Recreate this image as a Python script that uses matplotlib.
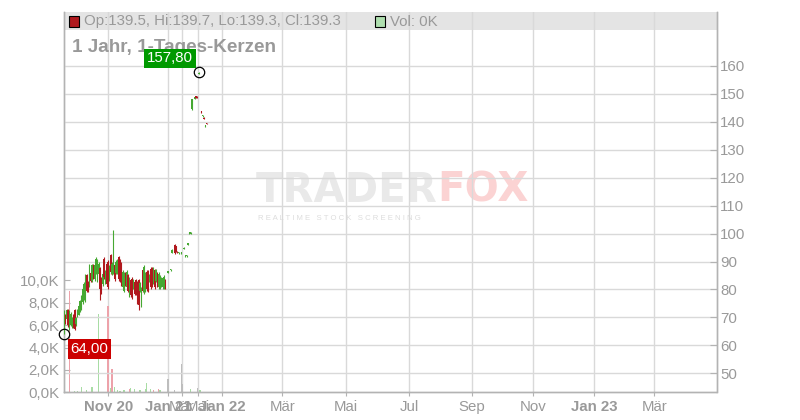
import matplotlib
matplotlib.use("Agg")
import matplotlib.pyplot as plt
from matplotlib.patches import Rectangle

plt.rcParams['font.family'] = ['Liberation Sans', 'DejaVu Sans']

# ---------------- data ----------------
# candle slot (trading-day index on the chart's ordinal axis)
slots = list(range(0, 77)) + [78, 80, 81, 83, 84, 85, 86, 88, 90, 91, 92, 93, 94, 95,
                              96, 98, 99, 100, 101, 103, 104, 105, 106, 107]
opens = [66.5, 70.8, 69.5, 72.8, 66.0, 67.3, 66.8, 71.0, 72.5, 67.5, 70.5, 71.0, 72.3, 73.0,
         75.4, 76.6, 76.5, 85.2, 82.8, 81.5, 85.8, 83.2, 88.8, 83.8, 86.2, 83.5, 85.5, 87.6,
         84.0, 81.9, 91.0, 82.5, 89.2, 89.8, 83.8, 92.2, 85.5, 87.0, 88.8, 86.0, 86.0, 91.6,
         90.4, 89.2, 80.8, 79.6, 85.8, 80.8, 85.1, 77.9, 83.3, 83.9, 80.6, 82.8, 83.3, 82.7,
         83.3, 79.4, 74.3, 86.9, 79.0, 79.6, 86.3, 86.3, 83.0, 87.5, 87.5, 82.5, 86.9, 83.0,
         85.7, 80.8, 80.8, 81.3, 80.8, 80.8, 83.3,
         86.0, 86.8, 93.2, 96.0, 95.5, 93.5, 92.9, 92.9, 94.5, 91.8, 91.8, 96.0, 99.9, 99.9,
         144.5, 148.3, 149.1, 149.0, 157.2, 143.9, 141.9, 141.5, 138.4, 139.5]
highs = [72.7, 71.1, 73.1, 73.1, 72.7, 71.9, 70.1, 71.3, 73.1, 70.1, 73.1, 74.3, 76.1, 77.9,
         80.8, 82.6, 85.6, 85.6, 83.2, 89.2, 86.2, 89.2, 89.2, 89.2, 91.5, 90.9, 89.8, 88.0,
         84.4, 86.2, 91.5, 86.8, 89.8, 90.4, 88.6, 92.7, 89.8, 101.4, 89.2, 90.4, 90.9, 92.1,
         90.9, 89.8, 86.8, 86.2, 86.2, 86.8, 85.6, 84.4, 83.8, 84.4, 83.8, 83.2, 83.8, 83.2,
         83.8, 82.6, 80.8, 87.4, 88.6, 86.2, 86.8, 86.8, 85.6, 88.0, 88.0, 88.0, 87.4, 87.4,
         86.2, 86.2, 85.0, 84.4, 84.4, 85.0, 83.8,
         86.6, 87.4, 94.5, 96.3, 95.7, 93.6, 93.5, 93.5, 95.1, 92.4, 92.4, 96.6, 100.5, 100.5,
         148.2, 148.9, 149.2, 149.1, 157.8, 144.0, 142.5, 141.6, 139.0, 139.7]
lows = [64.0, 67.7, 68.9, 66.5, 65.4, 66.8, 66.3, 66.3, 65.4, 67.1, 70.1, 70.7, 71.9, 72.5,
        74.9, 76.1, 75.5, 79.0, 79.0, 80.8, 82.6, 82.6, 83.8, 83.2, 85.6, 82.6, 85.0, 76.1,
        78.4, 81.4, 83.8, 82.0, 81.4, 80.2, 83.2, 85.6, 85.0, 85.6, 83.2, 85.6, 85.6, 83.2,
        82.6, 81.4, 80.2, 79.0, 81.4, 80.2, 79.0, 77.3, 77.3, 76.7, 80.2, 77.9, 77.9, 74.9,
        72.5, 79.0, 73.7, 79.0, 78.4, 79.0, 79.6, 79.0, 82.6, 80.2, 80.8, 82.0, 80.2, 82.6,
        80.8, 80.2, 80.2, 80.8, 80.2, 80.2, 80.2,
        85.9, 86.7, 93.1, 92.7, 93.3, 92.9, 92.8, 92.8, 94.4, 91.7, 91.7, 95.9, 99.8, 99.8,
        144.4, 148.2, 148.5, 148.4, 157.1, 143.2, 141.8, 140.9, 138.3, 139.3]
closes = [71.5, 68.2, 72.5, 67.2, 72.0, 71.2, 69.6, 66.9, 66.0, 69.7, 72.8, 74.0, 75.7, 77.4,
          80.2, 82.0, 85.0, 79.6, 79.4, 88.5, 83.0, 88.6, 84.3, 88.6, 91.0, 90.2, 89.2, 80.0,
          79.0, 85.7, 84.4, 86.3, 82.0, 81.0, 88.0, 86.2, 89.2, 92.0, 83.8, 90.0, 90.5, 83.8,
          83.2, 82.0, 86.2, 85.6, 81.9, 86.2, 79.6, 83.8, 77.9, 77.3, 83.4, 78.4, 78.4, 76.0,
          74.5, 82.2, 80.2, 79.6, 88.0, 85.6, 80.2, 79.6, 85.2, 80.8, 81.4, 87.5, 80.8, 86.9,
          81.4, 85.7, 84.5, 84.0, 84.0, 84.5, 80.8,
          86.5, 87.3, 94.3, 93.0, 93.5, 93.0, 93.4, 93.4, 95.0, 92.3, 92.3, 96.5, 100.4, 100.4,
          148.1, 148.8, 148.6, 148.5, 157.6, 143.3, 142.4, 141.0, 138.9, 139.3]

# volume (thousands) by slot; kind: u = up, d = down, n = neutral
vol_slots = [4, 8, 10, 13, 17, 21, 26, 33, 35, 36, 38, 40, 42, 45, 49, 50, 53, 57, 61, 62,
             65, 67, 71, 72, 78, 83, 88, 89, 95, 100, 102]
vol_values = [9.07, 0.15, 0.15, 0.45, 0.2, 0.5, 7.0, 7.7, 0.4, 2.1, 0.5, 0.2, 0.15, 0.2, 0.3,
              0.4, 0.3, 0.2, 0.3, 0.86, 0.3, 0.2, 0.3, 0.2, 1.19, 0.2, 2.53, 0.7, 0.3, 0.4, 0.2]
vol_kinds = ['d', 'u', 'u', 'u', 'u', 'u', 'u', 'd', 'u', 'd', 'u', 'u', 'u', 'u', 'd', 'u',
             'u', 'u', 'u', 'u', 'u', 'd', 'd', 'u', 'n', 'n', 'n', 'n', 'u', 'n', 'u']

tick_slots = [33.2, 78.2, 88.3, 100.5, 118.7, 163.7, 211.5, 258.8, 306.0, 351.8, 397.7, 442.7]
tick_labels = ['Nov 20', 'Jan 21', 'Mär', 'Mai', 'Jan 22', 'Mär', 'Mai', 'Jul', 'Sep', 'Nov',
               'Jan 23', 'Mär']
price_ticks = [50, 60, 70, 80, 90, 100, 110, 120, 130, 140, 150, 160]
vol_ticks = [0, 2, 4, 6, 8, 10]

# ---------------- style ----------------
UP = '#46a832'
DOWN = '#b0191e'
VUP = '#a8dca4'
VDOWN = '#eda2aa'
VNEU = '#bdbdbd'
GRID = '#d9d9d9'
SPINE = '#b3b3b3'
TXT = '#999999'

W, H = 800, 420
fig = plt.figure(figsize=(8, 4.2), dpi=100)
L, R, T, B = 63.5, 716.5, 11.7, 392.3
axv = fig.add_axes([L / W, (H - B) / H, (R - L) / W, (B - T) / H])
axp = axv.twinx()

axv.set_xlim(-0.375, 489.4)
axv.set_ylim(0, 34.0)
axp.set_ylim(43.2, 179.4)

axv.set_axisbelow(True)
axp.set_axisbelow(True)

# header band & watermark (below grid)
hb = (B - 30.0) / (B - T)
axv.add_patch(Rectangle((0, hb), 1, 1 - hb, transform=axv.transAxes,
                        fc='#e4e4e4', ec='none', zorder=0.2, clip_on=False))
axv.text(437 / W, 1 - 191 / H, 'TRADER', transform=fig.transFigure, ha='right', va='center',
         fontsize=29, fontweight='bold', color='#e9e9e9', family='DejaVu Sans', zorder=0.1)
axv.text(437 / W, 1 - 191 / H, 'FOX', transform=fig.transFigure, ha='left', va='center',
         fontsize=29, fontweight='bold', color='#fbd3d3', family='DejaVu Sans', zorder=0.1)
axv.text(339 / W, 1 - 218 / H, 'R E A L T I M E   S T O C K   S C R E E N I N G',
         transform=fig.transFigure, ha='center', va='center', fontsize=5.6,
         color='#dddddd', zorder=0.1)

# volume bars
vcol = {'u': VUP, 'd': VDOWN, 'n': VNEU}
axv.bar(vol_slots, vol_values, width=0.8, color=[vcol[k] for k in vol_kinds],
        edgecolor='none', zorder=2)

# candles
ccols = [UP if c >= o else DOWN for o, c in zip(opens, closes)]
axp.vlines(slots, lows, highs, colors=ccols, lw=0.8, zorder=3)
bottoms = [min(o, c) for o, c in zip(opens, closes)]
heights = [max(abs(c - o), 0.35) for o, c in zip(opens, closes)]
axp.bar(slots, heights, bottom=bottoms, width=0.9, color=ccols, edgecolor='none', zorder=3)

# high / low markers
hi = max(highs)
hi_slot = slots[highs.index(hi)]
lo = min(lows)
lo_slot = slots[lows.index(lo)]
axp.plot([hi_slot], [hi], 'o', ms=7.5, mfc='none', mec='black', mew=0.9, zorder=6, clip_on=False)
axp.plot([lo_slot], [lo], 'o', ms=7.5, mfc='none', mec='black', mew=0.9, zorder=6, clip_on=False)
axp.annotate(f"{hi:.2f}".replace('.', ','), xy=(hi_slot, hi), xytext=(-20.7, 9.9),
             textcoords='offset points', ha='center', va='center', color='white',
             fontsize=10.8, zorder=7,
             bbox=dict(boxstyle='square,pad=0.18', fc='#009900', ec='none'))
axp.annotate(f"{lo:.2f}".replace('.', ','), xy=(lo_slot, lo), xytext=(18.1, -10.6),
             textcoords='offset points', ha='center', va='center', color='white',
             fontsize=10.8, zorder=7,
             bbox=dict(boxstyle='square,pad=0.18', fc='#cc0000', ec='none'))

# header texts
axv.add_patch(Rectangle((68.5 / W, 1 - 26.5 / H), 10.3 / W, 10.3 / H, transform=fig.transFigure,
                        fc=DOWN, ec='black', lw=0.8, zorder=2, clip_on=False))
axv.add_patch(Rectangle((375 / W, 1 - 26.5 / H), 10.3 / W, 10.3 / H, transform=fig.transFigure,
                        fc='#afdfaf', ec='black', lw=0.8, zorder=2, clip_on=False))
o, h, l, c = opens[-1], highs[-1], lows[-1], closes[-1]
axv.text(84 / W, 1 - 21.5 / H, f"Op:{o}, Hi:{h}, Lo:{l}, Cl:{c}", transform=fig.transFigure,
         ha='left', va='center', fontsize=10.8, color=TXT, zorder=2)
axv.text(390 / W, 1 - 21.5 / H, "Vol: 0K", transform=fig.transFigure,
         ha='left', va='center', fontsize=10.8, color=TXT, zorder=2)
axv.text(72.5 / W, 1 - 47.5 / H, "1 Jahr, 1-Tages-Kerzen", transform=fig.transFigure,
         ha='left', va='center', fontsize=13.6, fontweight='bold', color=TXT, zorder=2)

# axes / ticks / grid
axv.set_xticks(tick_slots)
axv.set_xticklabels(tick_labels)
for lab in axv.get_xticklabels():
    if any(ch.isdigit() for ch in lab.get_text()):
        lab.set_fontweight('bold')
axv.grid(axis='x', color=GRID, lw=1)
axv.set_yticks(vol_ticks)
axv.set_yticklabels([f"{v:.1f}K".replace('.', ',') for v in vol_ticks])
axp.set_yticks(price_ticks)
axp.set_yticklabels([str(v) for v in price_ticks])
axp.grid(axis='y', color=GRID, lw=1)

axv.tick_params(axis='x', direction='out', length=3, color=SPINE, labelcolor=TXT,
                labelsize=10.8, pad=2.5)
axv.tick_params(axis='y', direction='in', length=4, color=SPINE, labelcolor=TXT,
                labelsize=10.8, pad=3)
axp.tick_params(axis='y', direction='in', length=5, color=SPINE, labelcolor=TXT,
                labelsize=10.8, pad=2.5)

for ax in (axv, axp):
    ax.spines['top'].set_visible(False)
    for s in ('left', 'right', 'bottom'):
        ax.spines[s].set_color(SPINE)
        ax.spines[s].set_linewidth(1)

fig.savefig('out.png', dpi=100)
